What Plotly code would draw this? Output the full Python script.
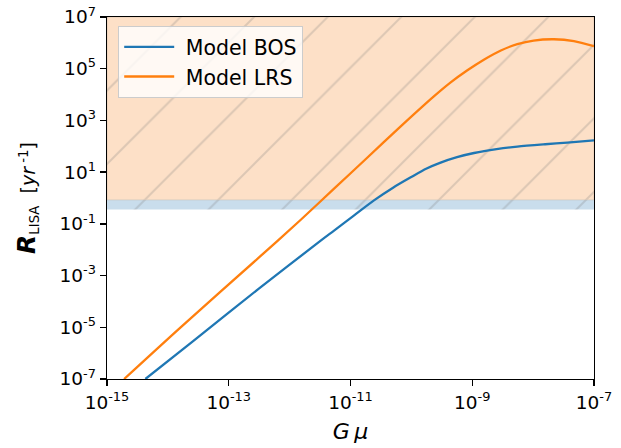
import plotly.graph_objects as go

# ---- data ----
bos_gmu = [4.27e-15, 2.63e-14, 3.16e-13, 3.24e-12, 5.37e-12, 1.12e-11, 2.43e-11, 5.0e-11,
           9.77e-11, 1.78e-10, 3.02e-10, 5.62e-10, 1.07e-9, 2.51e-9, 5.5e-9,
           1.58e-8, 3.63e-8, 1e-7]
bos_rate = [1e-7, 3.0e-6, 3.2e-4, 0.0224, 0.055, 0.204, 0.81, 2.51,
            6.3, 13.8, 23.4, 38.0, 55.0, 77.6, 97.7,
            120, 138, 170]

lrs_gmu = [1.91e-15, 1.62e-14, 3.31e-13, 1.51e-12, 5.37e-12, 1.88e-11, 6.61e-11,
           2.34e-10, 4.37e-10, 8.32e-10, 1.55e-9, 2.95e-9, 5.5e-9, 1.02e-8,
           2.19e-8, 4.68e-8, 1e-7]
lrs_rate = [1e-7, 1e-5, 5.6e-3, 0.141, 2.29, 36, 575,
            8500, 2.9e4, 8.7e4, 2.24e5, 5.1e5, 8.9e5, 1.23e6,
            1.38e6, 1.17e6, 7.4e5]

band_low, band_high = 0.36, 0.85      # blue band
excl_top = 1e7                        # top of hatched region
x_range = [1e-15, 1e-7]

x_tickvals = [1e-15, 1e-13, 1e-11, 1e-9, 1e-7]
x_ticktext = ["10<sup>-15</sup>", "10<sup>-13</sup>", "10<sup>-11</sup>", "10<sup>-9</sup>", "10<sup>-7</sup>"]
y_tickvals = [1e-7, 1e-5, 1e-3, 1e-1, 1e1, 1e3, 1e5, 1e7]
y_ticktext = ["10<sup>-7</sup>", "10<sup>-5</sup>", "10<sup>-3</sup>", "10<sup>-1</sup>",
              "10<sup>1</sup>", "10<sup>3</sup>", "10<sup>5</sup>", "10<sup>7</sup>"]

FONT = "DejaVu Sans"
hatch_fg = "rgba(120,120,120,0.5)"

fig = go.Figure()

# blue band
fig.add_trace(go.Scatter(
    x=[x_range[0], x_range[1], x_range[1], x_range[0], x_range[0]],
    y=[band_low, band_low, band_high, band_high, band_low],
    fill="toself", mode="lines", line=dict(width=0, color="rgba(0,0,0,0)"),
    fillcolor="#c9ddec",
    fillpattern=dict(shape="/", bgcolor="#c9ddec", fgcolor=hatch_fg, size=52, solidity=0.04),
    showlegend=False, hoverinfo="skip"))

# orange hatched region
fig.add_trace(go.Scatter(
    x=[x_range[0], x_range[1], x_range[1], x_range[0], x_range[0]],
    y=[band_high, band_high, excl_top, excl_top, band_high],
    fill="toself", mode="lines", line=dict(width=0.8, color="rgba(200,180,160,0.6)"),
    fillcolor="#fde0c7",
    fillpattern=dict(shape="/", bgcolor="#fde0c7", fgcolor=hatch_fg, size=52, solidity=0.04),
    showlegend=False, hoverinfo="skip"))

fig.add_trace(go.Scatter(x=bos_gmu, y=bos_rate, mode="lines", name="\u00a0Model BOS",
                         line=dict(color="#1f77b4", width=2.3, shape="spline", smoothing=0.8)))
fig.add_trace(go.Scatter(x=lrs_gmu, y=lrs_rate, mode="lines", name="\u00a0Model LRS",
                         line=dict(color="#ff7f0e", width=2.3, shape="spline", smoothing=0.8)))

axis_common = dict(
    type="log", showgrid=False, zeroline=False, automargin=False,
    showline=True, linecolor="black", linewidth=1.4, mirror=True,
    ticks="outside", ticklen=6, tickwidth=1.3, tickcolor="black",
    tickfont=dict(family=FONT, size=18.5, color="black"),
    ticklabeloverflow="allow",
)

fig.update_xaxes(**axis_common,
                 range=[-15, -7], tickvals=x_tickvals, ticktext=x_ticktext,
                 title=dict(text="<i>G\u2009μ</i>", font=dict(family=FONT, size=22, color="black"), standoff=12))
fig.update_yaxes(**axis_common,
                 range=[-7, 7], tickvals=y_tickvals, ticktext=y_ticktext,
                 title=dict(text='<span style="font-size:25px"><b><i>R</i></b></span><sub>LISA</sub>'
                                 '  [<i>yr</i><sup> -1</sup>]',
                            font=dict(family=FONT, size=19, color="black"), standoff=18))

fig.update_layout(
    width=621, height=448,
    margin=dict(l=107, r=27, t=17, b=69),
    paper_bgcolor="white", plot_bgcolor="white",
    font=dict(family=FONT, color="black"),
    legend=dict(x=0.023, y=0.975, xanchor="left", yanchor="top",
                bgcolor="rgba(255,255,255,0.8)", bordercolor="#cccccc", borderwidth=1,
                font=dict(family=FONT, size=20.5, color="black"), itemwidth=50,
                tracegroupgap=0),
)

# remove the default 8px page margin so the figure sits at the window's top-left corner
fig.write_html("out.html",
               config={"displayModeBar": False, "staticPlot": True},
               post_script="document.body.style.margin='0';document.body.style.overflow='hidden';")
